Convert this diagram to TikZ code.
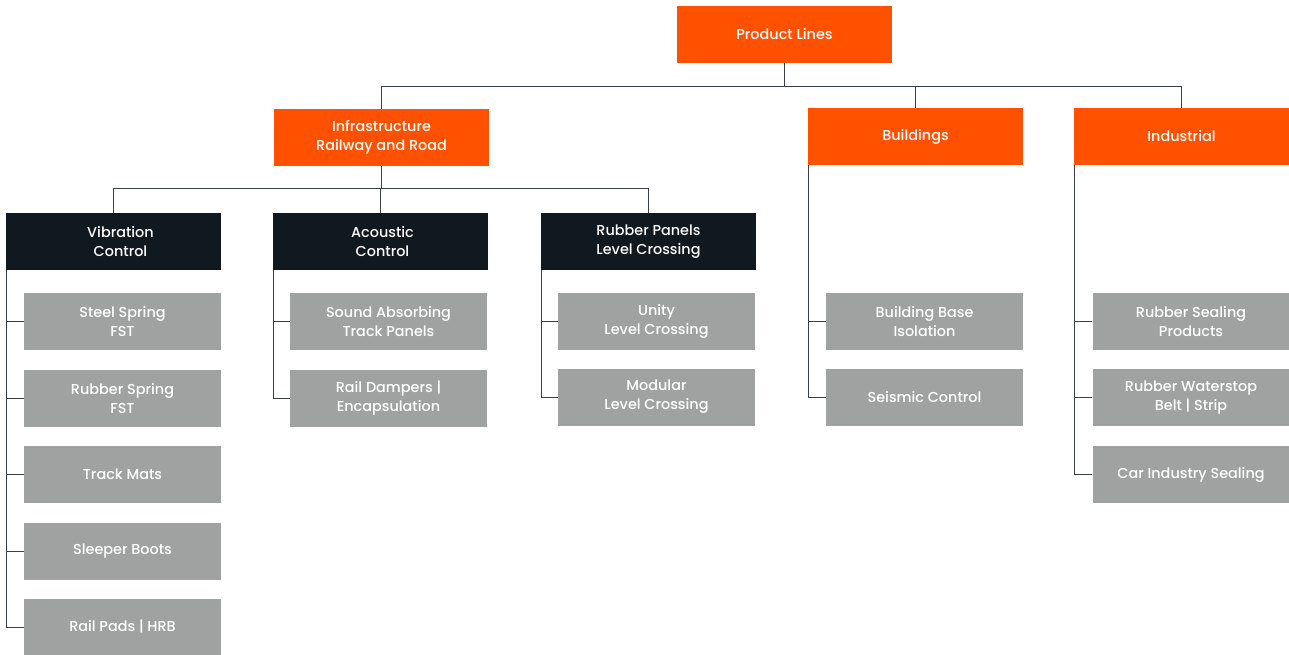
\documentclass[tikz,border=0pt]{standalone}
\usepackage{fontspec}
\setmainfont{Poppins}[UprightFont=* Medium]
\definecolor{orng}{HTML}{FF5100}
\definecolor{darkb}{HTML}{101820}
\definecolor{grayb}{HTML}{A0A2A1}
\definecolor{linec}{HTML}{3A3F44}
\begin{document}
\begin{tikzpicture}[x=1pt,y=-1pt,
  box/.style={minimum width=215pt,minimum height=57pt,inner sep=0pt,text=white,align=center,font=\fontsize{14.4}{19}\selectfont},
  obox/.style={box,fill=orng},
  dbox/.style={box,fill=darkb},
  gbox/.style={box,fill=grayb,minimum width=197pt},
  conn/.style={draw=linec,line width=1pt}]
\useasboundingbox (0,0) rectangle (1289,655);
\node[obox] (PL) at (784.5,34.5) {Product Lines};
\node[obox] (IN) at (381.5,137.5) {Infrastructure\\Railway and Road};
\node[obox] (BU) at (915.5,136.5) {Buildings};
\node[obox] (ID) at (1181.5,136.5) {Industrial};
\node[dbox] (VC) at (113.5,241.5) {\hspace*{14pt}Vibration\\\hspace*{14pt}Control};
\node[dbox] (AC) at (380.5,241.5) {\hspace*{4pt}Acoustic\\\hspace*{4pt}Control};
\node[dbox] (RP) at (648.5,241.5) {Rubber Panels\\Level Crossing};
\node[gbox] (v1) at (122.5,321.5) {Steel Spring\\FST};
\node[gbox] (v2) at (122.5,398.5) {Rubber Spring\\FST};
\node[gbox] (v3) at (122.5,474.5) {Track Mats};
\node[gbox] (v4) at (122.5,551.5) {Sleeper Boots};
\node[gbox] (v5) at (122.5,627) {Rail Pads | HRB};
\node[gbox] (a1) at (388.5,321.5) {Sound Absorbing\\Track Panels};
\node[gbox] (a2) at (388.5,398.5) {Rail Dampers |\\Encapsulation};
\node[gbox] (r1) at (656.5,321.5) {Unity\\Level Crossing};
\node[gbox] (r2) at (656.5,397) {Modular\\Level Crossing};
\node[gbox] (b1) at (924.5,321.5) {Building Base\\Isolation};
\node[gbox] (b2) at (924.5,397.5) {Seismic Control};
\node[gbox] (i1) at (1191,321.5) {Rubber Sealing\\Products};
\node[gbox] (i2) at (1191,397.5) {Rubber Waterstop\\Belt | Strip};
\node[gbox] (i3) at (1191,474.5) {Car Industry Sealing};
% top level
\draw[conn] (PL.south) -- ++(0,23) coordinate (b0);
\draw[conn] (IN.north) -- (IN.north |- b0) -| (ID.north);
\draw[conn] (BU.north) -- (BU.north |- b0);
% infrastructure
\draw[conn] (IN.south) -- ++(0,22) coordinate (b1c);
\draw[conn] (VC.north) -- (VC.north |- b1c) -| (RP.north);
\draw[conn] (AC.north) -- (AC.north |- b1c);
% sub-lists
\foreach \p/\last/\items in {VC/v5/{v1,v2,v3,v4},AC/a2/{a1},RP/r2/{r1},BU/b2/{b1},ID/i3/{i1,i2}}{
  \draw[conn] ([xshift=1pt]\p.south west) |- (\last.west);
  \foreach \g in \items {\draw[conn] ([xshift=1pt]\p.south west |- \g.west) -- (\g.west);}
}
\end{tikzpicture}
\end{document}
